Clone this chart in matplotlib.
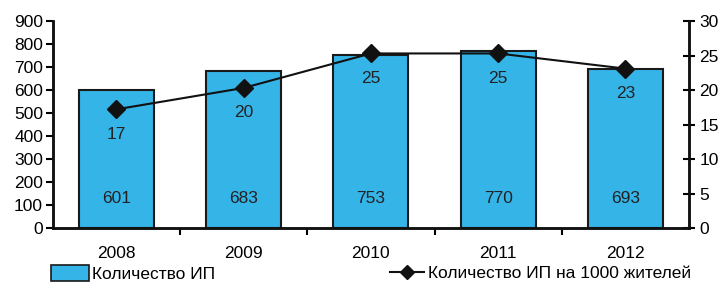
import matplotlib
matplotlib.use("Agg")
import matplotlib.pyplot as plt
from matplotlib.patches import Patch
from matplotlib.lines import Line2D

plt.rcParams['font.family'] = ['Liberation Sans', 'DejaVu Sans']
plt.rcParams['font.size'] = 12.5

# data
years = ['2008', '2009', '2010', '2011', '2012']
ip_count = [601, 683, 753, 770, 693]
ip_per_1000 = [17.2, 20.3, 25.3, 25.3, 23.1]

bar_color = '#35b4e8'
x = list(range(len(years)))

fig = plt.figure(figsize=(7.23, 2.94), dpi=100)
ax = fig.add_axes([0.073, 0.2245, 0.880, 0.704])
ax2 = ax.twinx()

ax.bar(x, ip_count, width=0.59, color=bar_color, edgecolor='#1a1a1a', linewidth=1.5, zorder=2)
for xi, v in zip(x, ip_count):
    ax.text(xi, 130, str(v), ha='center', va='center', color='#222222')

ax2.plot(x, ip_per_1000, color='#111111', linewidth=1.5, marker='D', markersize=9, zorder=3)
for xi, v in zip(x, ip_per_1000):
    ax2.annotate('%.0f' % v, (xi, v), xytext=(0, -18), textcoords='offset points',
                 ha='center', va='center', color='#222222')

ax.set_xlim(-0.5, 4.5)
ax.set_ylim(0, 900)
ax.set_yticks(range(0, 901, 100))
ax2.set_ylim(0, 30)
ax2.set_yticks(range(0, 31, 5))

ax.set_xticks(x)
ax.set_xticklabels(years)
ax.tick_params(axis='x', length=0, pad=13)
ax.set_xticks([0.5, 1.5, 2.5, 3.5], minor=True)
ax.tick_params(axis='x', which='minor', length=5, width=1.5, direction='out')
ax.tick_params(axis='y', length=5, width=1.5, direction='out', pad=2)
ax2.tick_params(axis='y', length=9, width=1.5, direction='inout', pad=3)

for a in (ax, ax2):
    a.spines['top'].set_visible(False)
    for s in ('left', 'right', 'bottom'):
        a.spines[s].set_linewidth(1.8)
        a.spines[s].set_color('#111111')
ax2.set_zorder(ax.get_zorder() + 1)
ax2.patch.set_visible(False)

h1 = Patch(facecolor=bar_color, edgecolor='#1a1a1a', linewidth=1.2)
h2 = Line2D([], [], color='#111111', linewidth=1.5, marker='D', markersize=7)
fig.legend([h1], ['Количество ИП'], loc='center left', bbox_to_anchor=(0.058, 0.07),
           frameon=False, handlelength=2.2, handleheight=1.0, handletextpad=0.2, borderpad=0)
fig.legend([h2], ['Количество ИП на 1000 жителей'], loc='center left', bbox_to_anchor=(0.527, 0.07),
           frameon=False, handlelength=2.0, handletextpad=0.2, borderpad=0)

fig.savefig('out.png', dpi=100)
